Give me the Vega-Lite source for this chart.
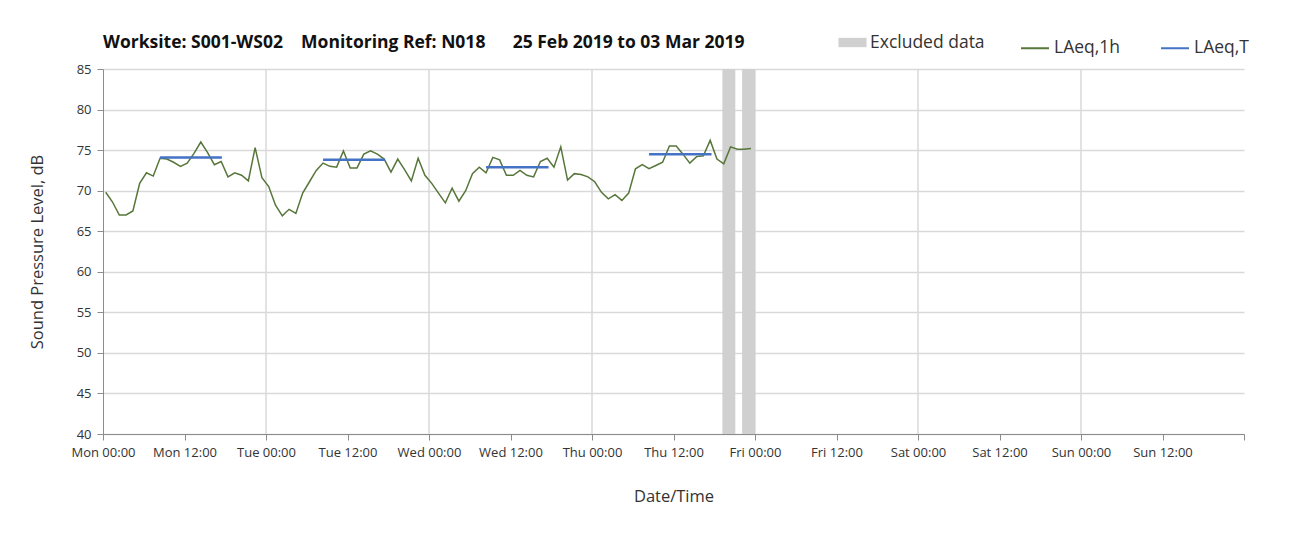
{
  "$schema": "https://vega.github.io/schema/vega-lite/v6.json",
  "autosize": {"type": "none"},
  "padding": {"left": 103, "top": 69, "right": 65, "bottom": 101},
  "width": 1141,
  "height": 365,
  "background": "white",
  "config": {
    "font": "Open Sans",
    "view": {"stroke": null},
    "axis": {"labelFont": "Open Sans", "titleFont": "Open Sans", "labelColor": "#333333", "titleColor": "#333333", "titleFontWeight": "normal", "domainColor": "#8c8c8c", "tickColor": "#8c8c8c", "gridColor": "#d9d9d9", "gridWidth": 1.5},
    "legend": {"labelFont": "Open Sans"}
  },
  "title": {
    "text": "Worksite: S001-WS02\u00a0\u00a0\u00a0\u00a0Monitoring Ref: N018\u00a0\u00a0\u00a0\u00a0\u00a0\u00a025 Feb 2019 to 03 Mar 2019",
    "anchor": "start",
    "frame": "group",
    "offset": -18,
    "fontSize": 17.5,
    "fontWeight": "bold",
    "color": "#111111",
    "font": "Open Sans"
  },
  "datasets": {
    "days": [{"h": 24}, {"h": 48}, {"h": 72}, {"h": 96}, {"h": 120}, {"h": 144}],
    "hourly": [
      {"h": 0.4, "v": 69.8, "s": "LAeq,1h"},
      {"h": 1.4, "v": 68.6, "s": "LAeq,1h"},
      {"h": 2.4, "v": 67.0, "s": "LAeq,1h"},
      {"h": 3.4, "v": 67.0, "s": "LAeq,1h"},
      {"h": 4.4, "v": 67.5, "s": "LAeq,1h"},
      {"h": 5.4, "v": 70.9, "s": "LAeq,1h"},
      {"h": 6.4, "v": 72.2, "s": "LAeq,1h"},
      {"h": 7.4, "v": 71.8, "s": "LAeq,1h"},
      {"h": 8.4, "v": 74.0, "s": "LAeq,1h"},
      {"h": 9.4, "v": 73.9, "s": "LAeq,1h"},
      {"h": 10.4, "v": 73.5, "s": "LAeq,1h"},
      {"h": 11.4, "v": 73.0, "s": "LAeq,1h"},
      {"h": 12.4, "v": 73.4, "s": "LAeq,1h"},
      {"h": 13.4, "v": 74.6, "s": "LAeq,1h"},
      {"h": 14.4, "v": 76.0, "s": "LAeq,1h"},
      {"h": 15.4, "v": 74.7, "s": "LAeq,1h"},
      {"h": 16.4, "v": 73.2, "s": "LAeq,1h"},
      {"h": 17.4, "v": 73.6, "s": "LAeq,1h"},
      {"h": 18.4, "v": 71.7, "s": "LAeq,1h"},
      {"h": 19.4, "v": 72.2, "s": "LAeq,1h"},
      {"h": 20.4, "v": 71.9, "s": "LAeq,1h"},
      {"h": 21.4, "v": 71.2, "s": "LAeq,1h"},
      {"h": 22.4, "v": 75.3, "s": "LAeq,1h"},
      {"h": 23.4, "v": 71.6, "s": "LAeq,1h"},
      {"h": 24.4, "v": 70.5, "s": "LAeq,1h"},
      {"h": 25.4, "v": 68.2, "s": "LAeq,1h"},
      {"h": 26.4, "v": 66.9, "s": "LAeq,1h"},
      {"h": 27.4, "v": 67.7, "s": "LAeq,1h"},
      {"h": 28.4, "v": 67.2, "s": "LAeq,1h"},
      {"h": 29.4, "v": 69.7, "s": "LAeq,1h"},
      {"h": 30.4, "v": 71.1, "s": "LAeq,1h"},
      {"h": 31.4, "v": 72.5, "s": "LAeq,1h"},
      {"h": 32.4, "v": 73.4, "s": "LAeq,1h"},
      {"h": 33.4, "v": 73.0, "s": "LAeq,1h"},
      {"h": 34.4, "v": 72.9, "s": "LAeq,1h"},
      {"h": 35.4, "v": 74.9, "s": "LAeq,1h"},
      {"h": 36.4, "v": 72.8, "s": "LAeq,1h"},
      {"h": 37.4, "v": 72.8, "s": "LAeq,1h"},
      {"h": 38.4, "v": 74.5, "s": "LAeq,1h"},
      {"h": 39.4, "v": 74.9, "s": "LAeq,1h"},
      {"h": 40.4, "v": 74.5, "s": "LAeq,1h"},
      {"h": 41.4, "v": 73.9, "s": "LAeq,1h"},
      {"h": 42.4, "v": 72.3, "s": "LAeq,1h"},
      {"h": 43.4, "v": 73.9, "s": "LAeq,1h"},
      {"h": 44.4, "v": 72.6, "s": "LAeq,1h"},
      {"h": 45.4, "v": 71.2, "s": "LAeq,1h"},
      {"h": 46.4, "v": 74.0, "s": "LAeq,1h"},
      {"h": 47.4, "v": 71.9, "s": "LAeq,1h"},
      {"h": 48.4, "v": 70.9, "s": "LAeq,1h"},
      {"h": 49.4, "v": 69.7, "s": "LAeq,1h"},
      {"h": 50.4, "v": 68.5, "s": "LAeq,1h"},
      {"h": 51.4, "v": 70.3, "s": "LAeq,1h"},
      {"h": 52.4, "v": 68.7, "s": "LAeq,1h"},
      {"h": 53.4, "v": 70.0, "s": "LAeq,1h"},
      {"h": 54.4, "v": 72.1, "s": "LAeq,1h"},
      {"h": 55.4, "v": 72.9, "s": "LAeq,1h"},
      {"h": 56.4, "v": 72.2, "s": "LAeq,1h"},
      {"h": 57.4, "v": 74.1, "s": "LAeq,1h"},
      {"h": 58.4, "v": 73.8, "s": "LAeq,1h"},
      {"h": 59.4, "v": 71.9, "s": "LAeq,1h"},
      {"h": 60.4, "v": 71.9, "s": "LAeq,1h"},
      {"h": 61.4, "v": 72.5, "s": "LAeq,1h"},
      {"h": 62.4, "v": 71.9, "s": "LAeq,1h"},
      {"h": 63.4, "v": 71.7, "s": "LAeq,1h"},
      {"h": 64.4, "v": 73.6, "s": "LAeq,1h"},
      {"h": 65.4, "v": 74.0, "s": "LAeq,1h"},
      {"h": 66.4, "v": 72.9, "s": "LAeq,1h"},
      {"h": 67.4, "v": 75.4, "s": "LAeq,1h"},
      {"h": 68.4, "v": 71.3, "s": "LAeq,1h"},
      {"h": 69.4, "v": 72.1, "s": "LAeq,1h"},
      {"h": 70.4, "v": 72.0, "s": "LAeq,1h"},
      {"h": 71.4, "v": 71.7, "s": "LAeq,1h"},
      {"h": 72.4, "v": 71.1, "s": "LAeq,1h"},
      {"h": 73.4, "v": 69.8, "s": "LAeq,1h"},
      {"h": 74.4, "v": 69.0, "s": "LAeq,1h"},
      {"h": 75.4, "v": 69.5, "s": "LAeq,1h"},
      {"h": 76.4, "v": 68.8, "s": "LAeq,1h"},
      {"h": 77.4, "v": 69.7, "s": "LAeq,1h"},
      {"h": 78.4, "v": 72.7, "s": "LAeq,1h"},
      {"h": 79.4, "v": 73.2, "s": "LAeq,1h"},
      {"h": 80.4, "v": 72.7, "s": "LAeq,1h"},
      {"h": 81.4, "v": 73.1, "s": "LAeq,1h"},
      {"h": 82.4, "v": 73.5, "s": "LAeq,1h"},
      {"h": 83.4, "v": 75.5, "s": "LAeq,1h"},
      {"h": 84.4, "v": 75.5, "s": "LAeq,1h"},
      {"h": 85.4, "v": 74.5, "s": "LAeq,1h"},
      {"h": 86.4, "v": 73.4, "s": "LAeq,1h"},
      {"h": 87.4, "v": 74.2, "s": "LAeq,1h"},
      {"h": 88.4, "v": 74.3, "s": "LAeq,1h"},
      {"h": 89.4, "v": 76.2, "s": "LAeq,1h"},
      {"h": 90.4, "v": 73.9, "s": "LAeq,1h"},
      {"h": 91.4, "v": 73.3, "s": "LAeq,1h"},
      {"h": 92.4, "v": 75.4, "s": "LAeq,1h"},
      {"h": 93.4, "v": 75.1, "s": "LAeq,1h"},
      {"h": 94.4, "v": 75.1, "s": "LAeq,1h"},
      {"h": 95.4, "v": 75.2, "s": "LAeq,1h"}
    ],
    "period": [
      {"h": 8.4, "h2": 17.5, "v": 74.1, "s": "LAeq,T"},
      {"h": 32.4, "h2": 41.5, "v": 73.8, "s": "LAeq,T"},
      {"h": 56.4, "h2": 65.6, "v": 72.9, "s": "LAeq,T"},
      {"h": 80.4, "h2": 89.6, "v": 74.5, "s": "LAeq,T"}
    ],
    "excluded": [
      {"h": 91.2, "h2": 93.1, "label": "Excluded data"},
      {"h": 94.1, "h2": 96.0, "label": "Excluded data"}
    ]
  },
  "layer": [
    {
      "data": {"name": "days"},
      "mark": {"type": "rule", "color": "#d9d9d9", "strokeWidth": 1.5},
      "encoding": {
        "x": {
          "field": "h", "type": "quantitative",
          "scale": {"domain": [0, 168], "nice": false, "zero": false},
          "axis": {
            "title": "Date/Time",
            "titleFontSize": 16.5,
            "titlePadding": 29,
            "labelFontSize": 13,
            "labelPadding": 6,
            "tickSize": 6,
            "grid": false,
            "values": [0, 12, 24, 36, 48, 60, 72, 84, 96, 108, 120, 132, 144, 156, 168],
            "labelExpr": "datum.value >= 168 ? '' : ['Mon', 'Tue', 'Wed', 'Thu', 'Fri', 'Sat', 'Sun'][floor(datum.value / 24)] + (datum.value % 24 == 0 ? ' 00:00' : ' 12:00')",
            "labelFlush": false,
            "labelOverlap": false
          }
        }
      }
    },
    {
      "data": {"name": "excluded"},
      "mark": {"type": "rect"},
      "encoding": {
        "x": {"field": "h", "type": "quantitative"},
        "x2": {"field": "h2"},
        "fill": {
          "field": "label", "type": "nominal",
          "scale": {"domain": ["Excluded data"], "range": ["#d0d0d0"]},
          "legend": {
            "title": null,
            "orient": "none",
            "legendX": 740,
            "legendY": -36,
            "symbolType": "M-1.5,-0.5H1.5V0.5H-1.5Z",
            "symbolSize": 350,
            "symbolStrokeWidth": 0,
            "labelOffset": 8,
            "labelFontSize": 17.5,
            "labelColor": "#333333"
          }
        }
      }
    },
    {
      "data": {"name": "hourly"},
      "mark": {"type": "line", "strokeWidth": 1.5},
      "encoding": {
        "x": {"field": "h", "type": "quantitative"},
        "y": {
          "field": "v", "type": "quantitative",
          "scale": {"domain": [40, 85], "nice": false, "zero": false},
          "axis": {
            "title": "Sound Pressure Level, dB",
            "titleFontSize": 16.5,
            "titlePadding": 31,
            "labelFontSize": 13,
            "labelPadding": 6,
            "tickSize": 6,
            "values": [40, 45, 50, 55, 60, 65, 70, 75, 80, 85]
          }
        },
        "stroke": {
          "field": "s", "type": "nominal",
          "scale": {"domain": ["LAeq,1h", "LAeq,T"], "range": ["#56763a", "#4472c4"]},
          "legend": {
            "title": null,
            "orient": "none",
            "direction": "horizontal",
            "legendX": 917,
            "legendY": -36,
            "symbolType": "stroke",
            "symbolSize": 784,
            "symbolStrokeWidth": 2,
            "columnPadding": 36,
            "labelFontSize": 17.5,
            "labelColor": "#333333"
          }
        }
      }
    },
    {
      "data": {"name": "period"},
      "mark": {"type": "rule", "strokeWidth": 2.5},
      "encoding": {
        "x": {"field": "h", "type": "quantitative"},
        "x2": {"field": "h2"},
        "y": {"field": "v", "type": "quantitative"},
        "stroke": {"field": "s", "type": "nominal"}
      }
    }
  ]
}
